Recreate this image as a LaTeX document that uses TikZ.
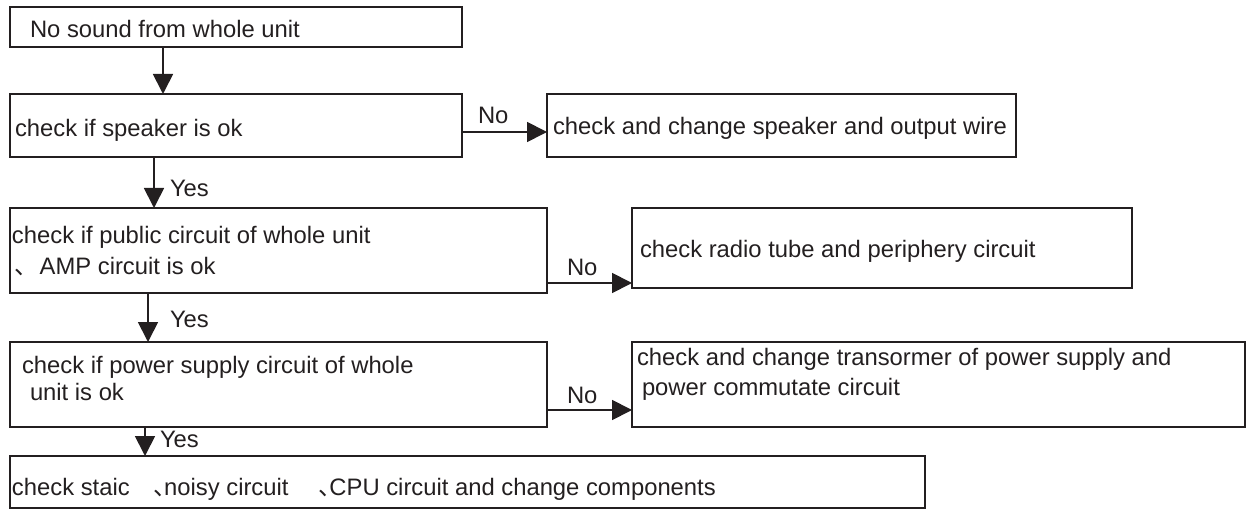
\documentclass[tikz,border=0pt]{standalone}
\usepackage{fontspec}
\setmainfont{Liberation Sans}
\newfontfamily\cjkfont{Noto Sans CJK SC}
% enumeration comma set in the CJK face, trimmed to its inked part
\newcommand\dunhao{\makebox[0.45em][l]{\cjkfont 、}}
\usetikzlibrary{arrows.meta}
\definecolor{ink}{RGB}{35,31,32}
\tikzset{
  box/.style={draw=ink, line width=2.6pt, outer sep=0pt, inner sep=0pt, anchor=north west},
  txt/.style={anchor=base west, inner sep=0pt, outer sep=0pt, text=ink, font=\fontsize{23.8}{30}\selectfont},
  flow/.style={draw=ink, line width=1.8pt, -{Triangle[length=20pt,width=20pt]}},
}
\begin{document}
\begin{tikzpicture}[x=1pt,y=-1pt]
\useasboundingbox (0,0) rectangle (1257,510);

% boxes
\node[box, minimum width=452pt, minimum height=40pt] (b1) at (10,7) {};
\node[box, minimum width=452pt, minimum height=63pt] (b2) at (10,94) {};
\node[box, minimum width=469pt, minimum height=63pt] (b3) at (547,94) {};
\node[box, minimum width=537pt, minimum height=85pt] (b4) at (10,208) {};
\node[box, minimum width=500pt, minimum height=80pt] (b5) at (632,208) {};
\node[box, minimum width=537pt, minimum height=85pt] (b6) at (10,342) {};
\node[box, minimum width=613pt, minimum height=85pt] (b7) at (632,342) {};
\node[box, minimum width=915pt, minimum height=52pt] (b8) at (10,456) {};

% box texts
\node[txt] (t1) at (30,38) {No sound from whole unit};
\node[txt] (t2) at (15,137) {check if speaker is ok};
\node[txt] (t3) at (553,135) {check and change speaker and output wire};
\node[txt] (t4a) at (12,244) {check if public circuit of whole unit};
\node[txt] (t4b) at (14,275) {\dunhao\hspace{15pt}AMP circuit is ok};
\node[txt] (t5) at (640,258) {check radio tube and periphery circuit};
\node[txt] (t6a) at (22,373) {check if power supply circuit of whole};
\node[txt] (t6b) at (30,400) {unit is ok};
\node[txt] (t7a) at (637,365) {check and change transormer of power supply and};
\node[txt] (t7b) at (642,395) {power commutate circuit};
\node[txt] (t8) at (12,495) {check staic\hspace{1.0em}\dunhao noisy circuit\hspace{1.27em}\dunhao CPU circuit and change components};

% vertical connectors
\draw[flow] ([xshift=153pt]b1.south west) -- ([xshift=153pt]b2.north west);
\draw[flow] ([xshift=144pt]b2.south west) -- ([xshift=144pt]b4.north west);
\draw[flow] ([xshift=138pt]b4.south west) -- ([xshift=138pt]b6.north west);
\draw[flow] ([xshift=135pt]b6.south west) -- ([xshift=135pt]b8.north west);

% horizontal connectors
\draw[flow] ([yshift=-38pt]b2.north east) -- ([yshift=-38pt]b3.north west);
\draw[flow] ([yshift=-75pt]b4.north east) -- ([yshift=-75pt]b5.north west);
\draw[flow] ([yshift=-68pt]b6.north east) -- ([yshift=-68pt]b7.north west);

% connector labels
\node[txt] (n1) at (478,124) {No};
\node[txt] (n2) at (567,276) {No};
\node[txt] (n3) at (567,403) {No};
\node[txt] (y1) at (170,197) {Yes};
\node[txt] (y2) at (170,327) {Yes};
\node[txt] (y3) at (160,447) {Yes};
\end{tikzpicture}
\end{document}
